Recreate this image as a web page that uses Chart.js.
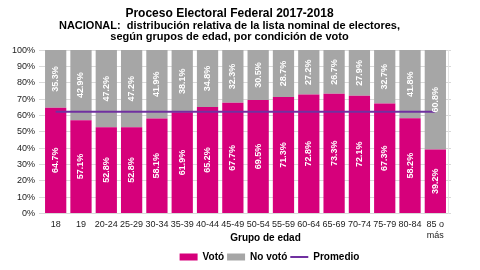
<!DOCTYPE html>
<html lang="es">
<head>
    <meta charset="utf-8">
    <title>Lista nominal por grupo de edad</title>
    <script src="https://cdn.jsdelivr.net/npm/chart.js"></script>
    <style>
        html, body { margin: 0; padding: 0; background: #fff; }
        #wrap { width: 480px; height: 270px; }
    </style>
</head>
<body>
    <div id="wrap"><canvas id="votoChart"></canvas></div>

    <script>
        // datos
        var gruposEdad = ['18', '19', '20-24', '25-29', '30-34', '35-39', '40-44', '45-49', '50-54',
            '55-59', '60-64', '65-69', '70-74', '75-79', '80-84', ['85 o', 'más']];
        var voto = [64.7, 57.1, 52.8, 52.8, 58.1, 61.9, 65.2, 67.7, 69.5, 71.3, 72.8, 73.3, 72.1, 67.3, 58.2, 39.2];
        var noVoto = [35.3, 42.9, 47.2, 47.2, 41.9, 38.1, 34.8, 32.3, 30.5, 28.7, 27.2, 26.7, 27.9, 32.7, 41.8, 60.8];
        var promedio = 62.3;
        var promedioSerie = gruposEdad.map(function() { return promedio; });

        var FUENTE = "'Liberation Sans', Arial, sans-serif";

        // etiquetas verticales dentro de cada segmento
        var etiquetasBarras = {
            id: 'etiquetasBarras',
            afterDatasetsDraw: function(chart) {
                var ctx = chart.ctx;
                ctx.save();
                ctx.fillStyle = '#ffffff';
                ctx.font = 'bold 9px ' + FUENTE;
                ctx.textAlign = 'center';
                ctx.textBaseline = 'middle';
                [0, 1].forEach(function(di) {
                    var meta = chart.getDatasetMeta(di);
                    var datos = chart.data.datasets[di].data;
                    meta.data.forEach(function(bar, i) {
                        var cy = (bar.y + bar.base) / 2;
                        ctx.save();
                        ctx.translate(bar.x, cy);
                        ctx.rotate(-Math.PI / 2);
                        ctx.fillText(datos[i].toFixed(1) + '%', 0, 0);
                        ctx.restore();
                    });
                });
                ctx.restore();
            },
            afterLayout: function(chart) {
                // la leyenda va algo a la derecha del centro
                if (chart.legend) {
                    chart.legend.left += 40;
                    chart.legend.right += 40;
                    chart.legend.top += 2;
                    chart.legend.bottom += 2;
                }
            },
            afterDraw: function(chart) {
                var ctx = chart.ctx;
                var xs = chart.scales.x;
                ctx.save();
                ctx.fillStyle = '#000';
                ctx.font = 'bold 10px ' + FUENTE;
                ctx.textAlign = 'center';
                ctx.textBaseline = 'middle';
                ctx.fillText('Grupo de edad', (xs.left + xs.right) / 2 + 20, 238);
                ctx.restore();
            }
        };

        var ctx = document.getElementById('votoChart').getContext('2d');
        var votoChart = new Chart(ctx, {
            type: 'bar',
            data: {
                labels: gruposEdad,
                datasets: [{
                    label: 'Votó',
                    data: voto,
                    backgroundColor: '#d6007b',
                    borderWidth: 0,
                    stack: 'lista',
                    order: 1
                }, {
                    label: 'No votó',
                    data: noVoto,
                    backgroundColor: '#a6a6a6',
                    borderWidth: 0,
                    stack: 'lista',
                    order: 1
                }, {
                    type: 'line',
                    label: 'Promedio',
                    data: promedioSerie,
                    borderColor: '#7030a0',
                    backgroundColor: '#7030a0',
                    borderWidth: 2,
                    pointRadius: 0,
                    pointStyle: 'line',
                    stack: 'prom',
                    order: 0
                }]
            },
            options: {
                responsive: true,
                maintainAspectRatio: false,
                animation: false,
                datasets: {
                    bar: { categoryPercentage: 0.84, barPercentage: 1 }
                },
                layout: { padding: { left: 8, right: 29, top: 0, bottom: 0 } },
                plugins: {
                    title: {
                        display: true,
                        text: 'Proceso Electoral Federal 2017-2018',
                        color: '#000',
                        font: { family: FUENTE, size: 12, weight: 'bold', lineHeight: 1.0 },
                        padding: { top: 8, bottom: 0 }
                    },
                    subtitle: {
                        display: true,
                        text: ['NACIONAL:  distribución relativa de la lista nominal de electores,',
                            'según grupos de edad, por condición de voto'],
                        color: '#000',
                        font: { family: FUENTE, size: 11, weight: 'bold', lineHeight: 1.05 },
                        padding: { top: 0, bottom: 7 }
                    },
                    legend: {
                        position: 'bottom',
                        labels: {
                            color: '#000',
                            font: { family: FUENTE, size: 10, weight: 'bold' },
                            usePointStyle: true,
                            pointStyleWidth: 18,
                            boxHeight: 7,
                            padding: 3,
                            sort: function(a, b) { return a.datasetIndex - b.datasetIndex; },
                            generateLabels: function(chart) {
                                var items = Chart.defaults.plugins.legend.labels.generateLabels(chart);
                                items.forEach(function(it) {
                                    var ds = chart.data.datasets[it.datasetIndex];
                                    it.pointStyle = ds.type === 'line' ? 'line' : 'rect';
                                    it.lineWidth = ds.type === 'line' ? 2 : 0;
                                });
                                return items;
                            }
                        }
                    },
                    tooltip: { enabled: false }
                },
                scales: {
                    x: {
                        stacked: true,
                        grid: { display: false, drawTicks: false },
                        border: { color: '#d9d9d9' },
                        ticks: {
                            color: '#222',
                            font: { family: FUENTE, size: 9 },
                            maxRotation: 0,
                            autoSkip: false,
                            padding: 6
                        }
                    },
                    y: {
                        stacked: true,
                        min: 0,
                        max: 100,
                        grid: { color: '#d9d9d9', tickLength: 4 },
                        border: { display: false },
                        ticks: {
                            stepSize: 10,
                            color: '#222',
                            font: { family: FUENTE, size: 9 },
                            padding: 4,
                            callback: function(v) { return v + '%'; }
                        }
                    },
                    yDer: {
                        position: 'right',
                        min: 0,
                        max: 100,
                        grid: { drawOnChartArea: false, color: '#d9d9d9', tickLength: 3 },
                        border: { color: '#e3e3e3' },
                        ticks: { stepSize: 10, display: false }
                    }
                }
            },
            plugins: [etiquetasBarras]
        });
    </script>
</body>
</html>
